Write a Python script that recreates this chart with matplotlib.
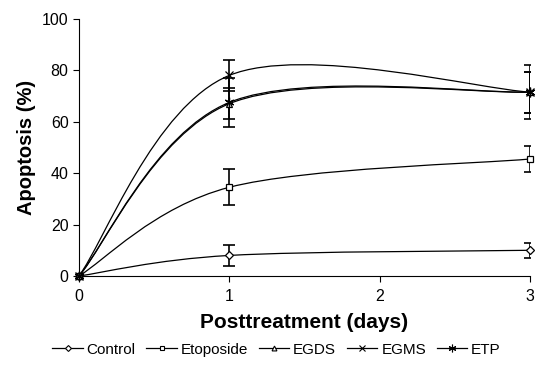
import matplotlib.pyplot as plt
from matplotlib.path import Path
from matplotlib.patches import PathPatch
from matplotlib.lines import Line2D

plt.rcParams['font.family'] = ['Liberation Sans', 'DejaVu Sans']

# data: days and % apoptosis (mean, error)
days = [0, 1, 3]
series_names = ['Control', 'Etoposide', 'EGDS', 'EGMS', 'ETP']
control = [0, 8, 10]
control_err = [0, 4, 3]
etoposide = [0, 34.5, 45.5]
etoposide_err = [0, 7, 5]
egds = [0, 67, 71.5]
egds_err = [0, 6, 8]
egms = [0, 78, 71.5]
egms_err = [0, 6, 8]
etp = [0, 67.5, 71.5]
etp_err = [0, 9.5, 10.5]

values = [control, etoposide, egds, egms, etp]
errors = [control_err, etoposide_err, egds_err, egms_err, etp_err]
markers = ['D', 's', '^', 'x', (6, 2, 0)]
msizes = [4.5, 5, 5, 6, 7]


def smooth_path(xs, ys):
    # Excel-like smoothed line: cubic bezier with neighbour tangents / 6
    pts = list(zip(xs, ys))
    verts = [pts[0]]
    codes = [Path.MOVETO]
    n = len(pts)
    for i in range(n - 1):
        p0 = pts[i - 1] if i > 0 else pts[i]
        p1 = pts[i]
        p2 = pts[i + 1]
        p3 = pts[i + 2] if i + 2 < n else pts[i + 1]
        c1 = (p1[0] + (p2[0] - p0[0]) / 6, p1[1] + (p2[1] - p0[1]) / 6)
        c2 = (p2[0] - (p3[0] - p1[0]) / 6, p2[1] - (p3[1] - p1[1]) / 6)
        verts += [c1, c2, p2]
        codes += [Path.CURVE4] * 3
    return Path(verts, codes)


fig = plt.figure(figsize=(5.37, 3.69), dpi=100)
ax = fig.add_axes([0.147, 0.252, 0.840, 0.697])

handles = []
for name, vals, err, m, ms in zip(series_names, values, errors, markers, msizes):
    ax.add_patch(PathPatch(smooth_path(days, vals), facecolor='none',
                           edgecolor='black', lw=0.9, zorder=2))
    ax.errorbar(days[1:], vals[1:], yerr=err[1:], fmt='none', ecolor='black',
                elinewidth=1.2, capsize=4, capthick=1.2, zorder=3)
    ax.plot(days, vals, linestyle='none', marker=m, markersize=ms,
            markerfacecolor='white', markeredgecolor='black',
            markeredgewidth=0.9, zorder=4, clip_on=False)
    handles.append(Line2D([], [], color='black', lw=0.9, marker=m,
                          markersize=ms - 1.5, markerfacecolor='white',
                          markeredgecolor='black', markeredgewidth=0.8))

ax.set_xlim(0, 3)
ax.set_ylim(0, 100)
ax.set_xticks([0, 1, 2, 3])
ax.set_yticks([0, 20, 40, 60, 80, 100])
ax.spines['top'].set_visible(False)
ax.spines['right'].set_visible(False)
ax.spines['left'].set_linewidth(0.8)
ax.spines['bottom'].set_linewidth(0.8)
ax.tick_params(direction='out', length=4, width=0.8, labelsize=11.5)
ax.tick_params(axis='x', pad=5)

ax.set_xlabel('Posttreatment (days)', fontsize=15, fontweight='bold', labelpad=7)
ax.set_ylabel('Apoptosis (%)', fontsize=14.5, fontweight='bold', labelpad=4)

fig.legend(handles, series_names, loc='center', bbox_to_anchor=(0.515, 0.052),
           ncol=5, frameon=False, fontsize=11, handlelength=2.0,
           handletextpad=0.25, columnspacing=0.7)

fig.savefig('out.png', dpi=100)
